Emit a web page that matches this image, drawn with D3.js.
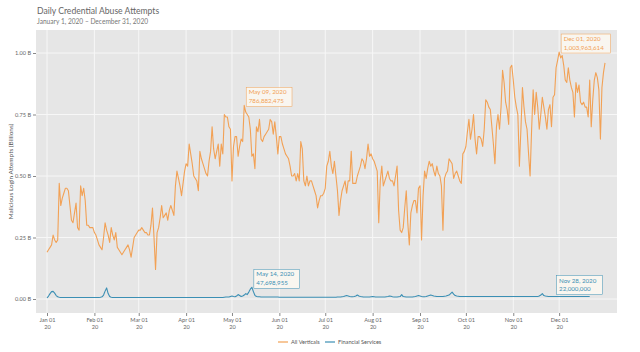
<!DOCTYPE html>
<html>
<head>
<meta charset="utf-8">
<script src="https://cdn.jsdelivr.net/npm/d3@7"></script>
<style>
  body { margin: 0; background: #fff; }
  text { font-family: Lato, "Open Sans", sans-serif; }
</style>
</head>
<body>
<div id="chart"></div>
<script>
// daily values, Jan 1 2020 .. Dec 31 2020, billions
var allVerticals = [
  0.19,0.20,0.21,0.22,0.26,0.24,0.23,0.24,0.47,0.38,
  0.41,0.43,0.45,0.45,0.44,0.38,0.32,0.31,0.35,0.39,
  0.29,0.28,0.46,0.42,0.45,0.40,0.30,0.30,0.29,0.29,
  0.29,0.27,0.26,0.24,0.22,0.21,0.20,0.25,0.31,0.28,
  0.26,0.23,0.29,0.26,0.24,0.27,0.21,0.20,0.19,0.18,
  0.19,0.20,0.21,0.22,0.20,0.17,0.21,0.25,0.26,0.27,
  0.28,0.28,0.29,0.28,0.27,0.27,0.26,0.26,0.30,0.37,
  0.25,0.12,0.27,0.29,0.33,0.38,0.33,0.34,0.35,0.32,
  0.36,0.38,0.36,0.34,0.46,0.52,0.49,0.46,0.42,0.47,
  0.52,0.55,0.54,0.63,0.59,0.55,0.50,0.49,0.48,0.44,
  0.60,0.57,0.55,0.53,0.51,0.50,0.56,0.60,0.70,0.61,
  0.57,0.60,0.63,0.54,0.63,0.59,0.75,0.74,0.74,0.70,
  0.69,0.48,0.62,0.66,0.66,0.58,0.62,0.65,0.64,0.787,
  0.76,0.75,0.74,0.69,0.58,0.59,0.53,0.70,0.68,0.73,
  0.65,0.64,0.66,0.67,0.68,0.69,0.73,0.72,0.67,0.72,
  0.66,0.59,0.66,0.66,0.63,0.61,0.59,0.58,0.57,0.54,
  0.50,0.50,0.51,0.48,0.51,0.48,0.64,0.61,0.48,0.46,
  0.50,0.46,0.48,0.48,0.46,0.44,0.42,0.37,0.40,0.42,
  0.42,0.43,0.45,0.54,0.56,0.60,0.54,0.51,0.56,0.50,
  0.44,0.34,0.40,0.44,0.46,0.48,0.43,0.48,0.48,0.60,
  0.47,0.47,0.47,0.50,0.52,0.54,0.57,0.56,0.53,0.57,
  0.63,0.58,0.59,0.57,0.56,0.54,0.52,0.31,0.48,0.54,
  0.46,0.48,0.50,0.52,0.49,0.48,0.48,0.46,0.50,0.54,
  0.36,0.28,0.27,0.29,0.37,0.44,0.31,0.22,0.35,0.38,
  0.40,0.40,0.35,0.45,0.46,0.24,0.42,0.52,0.49,0.53,
  0.56,0.54,0.55,0.52,0.50,0.54,0.51,0.50,0.46,0.28,
  0.49,0.51,0.52,0.57,0.56,0.55,0.49,0.51,0.52,0.50,
  0.48,0.47,0.59,0.60,0.62,0.68,0.73,0.65,0.69,0.75,
  0.65,0.59,0.66,0.66,0.65,0.62,0.69,0.81,0.80,0.78,
  0.77,0.70,0.63,0.55,0.70,0.75,0.69,0.78,0.93,0.88,
  0.80,0.77,0.71,0.94,0.95,0.89,0.82,0.78,0.75,0.54,
  0.69,0.86,0.78,0.72,0.69,0.59,0.50,0.69,0.85,0.75,
  0.84,0.78,0.69,0.75,0.82,0.78,0.74,0.69,0.77,0.79,
  0.70,0.82,0.83,0.94,0.97,1.004,0.98,0.99,0.95,0.89,
  0.88,0.94,0.89,0.86,0.84,0.74,0.88,0.84,0.87,0.80,
  0.79,0.80,0.78,0.78,0.74,0.89,0.70,0.81,0.89,0.92,
  0.90,0.85,0.65,0.86,0.92,0.96
];

var financialServices = [
  0.004,0.012,0.022,0.030,0.031,0.024,0.014,0.009,0.007,0.006,
  0.006,0.006,0.006,0.006,0.006,0.006,0.006,0.006,0.006,0.006,
  0.006,0.006,0.006,0.006,0.006,0.006,0.006,0.006,0.006,0.006,
  0.006,0.006,0.006,0.006,0.006,0.007,0.009,0.016,0.032,0.045,
  0.022,0.010,0.007,0.006,0.006,0.006,0.006,0.006,0.006,0.006,
  0.006,0.006,0.006,0.006,0.006,0.006,0.006,0.006,0.006,0.006,
  0.006,0.006,0.006,0.006,0.006,0.006,0.006,0.006,0.006,0.006,
  0.006,0.006,0.006,0.006,0.006,0.006,0.006,0.006,0.006,0.006,
  0.006,0.006,0.006,0.006,0.006,0.006,0.006,0.006,0.006,0.006,
  0.006,0.006,0.006,0.006,0.006,0.006,0.006,0.006,0.006,0.006,
  0.006,0.006,0.006,0.006,0.006,0.006,0.006,0.006,0.006,0.006,
  0.006,0.006,0.006,0.006,0.006,0.006,0.007,0.008,0.008,0.008,
  0.010,0.012,0.010,0.009,0.012,0.018,0.014,0.010,0.012,0.016,
  0.022,0.018,0.028,0.040,0.0477,0.030,0.015,0.010,0.009,0.009,
  0.008,0.008,0.008,0.008,0.008,0.008,0.008,0.008,0.008,0.008,
  0.008,0.008,0.007,0.007,0.007,0.007,0.007,0.007,0.007,0.007,
  0.007,0.007,0.007,0.007,0.007,0.007,0.007,0.007,0.007,0.007,
  0.007,0.007,0.007,0.007,0.007,0.007,0.007,0.007,0.007,0.007,
  0.007,0.007,0.007,0.007,0.007,0.007,0.007,0.007,0.007,0.007,
  0.008,0.008,0.008,0.009,0.010,0.012,0.014,0.012,0.010,0.009,
  0.009,0.010,0.012,0.016,0.012,0.010,0.009,0.008,0.008,0.008,
  0.008,0.008,0.009,0.010,0.009,0.008,0.008,0.008,0.008,0.008,
  0.008,0.008,0.009,0.010,0.012,0.011,0.009,0.008,0.008,0.008,
  0.009,0.010,0.018,0.010,0.009,0.008,0.008,0.008,0.008,0.008,
  0.009,0.010,0.012,0.014,0.012,0.010,0.009,0.009,0.010,0.012,
  0.014,0.016,0.014,0.012,0.011,0.010,0.010,0.010,0.010,0.010,
  0.011,0.012,0.014,0.016,0.022,0.028,0.020,0.014,0.012,0.011,
  0.010,0.010,0.010,0.010,0.010,0.010,0.010,0.010,0.010,0.010,
  0.010,0.010,0.010,0.010,0.010,0.010,0.010,0.010,0.010,0.010,
  0.010,0.010,0.010,0.010,0.010,0.010,0.010,0.010,0.010,0.010,
  0.010,0.010,0.010,0.010,0.010,0.010,0.010,0.010,0.010,0.010,
  0.010,0.010,0.010,0.010,0.010,0.010,0.010,0.010,0.010,0.010,
  0.010,0.010,0.012,0.016,0.022,0.014,0.012,0.011,0.010,0.010,
  0.010,0.010,0.010,0.010,0.010,0.010,0.010,0.010,0.010,0.010,
  0.010,0.010,0.010,0.010,0.010,0.010,0.010,0.010,0.010,0.010,
  0.010,0.010,0.010,0.010,0.010,0.010
];

var seriesNames = ['All Verticals', 'Financial Services'];
var seriesColors = ['#f2a155', '#3b8fb4'];
var yTicks = [0, 0.25, 0.5, 0.75, 1.0];

// callouts: [series index, date, exact value]
var callouts = [
  [0, '2020-05-09', 786882475],
  [0, '2020-12-01', 1003963614],
  [1, '2020-05-14', 47698955],
  [1, '2020-11-28', 22000000]
];

var w = 640, h = 352;
var panel = {left: 36, right: 617, top: 30, bottom: 313};

var parse = d3.timeParse('%Y-%m-%d');
var start = new Date(2020, 0, 1);
var days = allVerticals.map(function(d, i) { return d3.timeDay.offset(start, i); });

var svg = d3.select('#chart').append('svg')
  .attr('width', w).attr('height', h);

var x = d3.scaleTime()
  .domain([start, new Date(2020, 11, 31)])
  .range([47, 605]);
var y = d3.scaleLinear()
  .domain([0, 1])
  .range([299, 53]);

// title
svg.append('text').attr('x', 37).attr('y', 14)
  .attr('font-size', 8.6).attr('fill', '#666')
  .text('Daily Credential Abuse Attempts');
svg.append('text').attr('x', 37).attr('y', 24)
  .attr('font-size', 6.6).attr('fill', '#777')
  .text('January 1, 2020 \u2013 December 31, 2020');

// panel
svg.append('rect')
  .attr('x', panel.left).attr('y', panel.top)
  .attr('width', panel.right - panel.left).attr('height', panel.bottom - panel.top)
  .attr('fill', '#e6e6e6');

var months = d3.timeMonth.range(start, new Date(2021, 0, 1));

svg.append('g').selectAll('line')
  .data(yTicks).enter().append('line')
  .attr('x1', panel.left).attr('x2', panel.right)
  .attr('y1', function(d) { return y(d); }).attr('y2', function(d) { return y(d); })
  .attr('stroke', '#f7f7f7').attr('stroke-width', 1);

svg.append('g').selectAll('line')
  .data(months).enter().append('line')
  .attr('x1', function(d) { return x(d); }).attr('x2', function(d) { return x(d); })
  .attr('y1', panel.top).attr('y2', panel.bottom)
  .attr('stroke', '#f7f7f7').attr('stroke-width', 1);

// axes
var yAxis = d3.axisLeft(y).tickValues(yTicks).tickSize(3).tickPadding(2)
  .tickFormat(function(d) { return d3.format('.2f')(d) + ' B'; });
var gy = svg.append('g').attr('transform', 'translate(' + panel.left + ',0)').call(yAxis);
gy.select('.domain').remove();
gy.selectAll('line').attr('stroke', '#888');
gy.selectAll('text').attr('font-size', 5.6).attr('fill', '#666')
  .style('font-family', 'Lato, sans-serif');

var xAxis = d3.axisBottom(x).tickValues(months).tickSize(3).tickPadding(2)
  .tickFormat(d3.timeFormat('%b %d'));
var gx = svg.append('g').attr('transform', 'translate(0,' + panel.bottom + ')').call(xAxis);
gx.select('.domain').remove();
gx.selectAll('line').attr('stroke', '#888');
gx.selectAll('text').attr('font-size', 5.6).attr('fill', '#666')
  .style('font-family', 'Lato, sans-serif');
gx.selectAll('.tick').append('text')
  .attr('y', 12).attr('dy', '0.71em').attr('text-anchor', 'middle')
  .attr('font-size', 5.6).attr('fill', '#666')
  .style('font-family', 'Lato, sans-serif')
  .text(function(d) { return d3.timeFormat('%y')(d); });

svg.append('text')
  .attr('transform', 'translate(13,' + ((panel.top + panel.bottom) / 2) + ') rotate(-90)')
  .attr('text-anchor', 'middle').attr('font-size', 6.4).attr('fill', '#555')
  .text('Malicious Login Attempts (Billions)');

// lines
var line = d3.line()
  .x(function(d, i) { return x(days[i]); })
  .y(function(d) { return y(d); });

[allVerticals, financialServices].forEach(function(s, k) {
  svg.append('path').datum(s)
    .attr('fill', 'none')
    .attr('stroke', seriesColors[k])
    .attr('stroke-width', 1.1)
    .attr('stroke-linejoin', 'round')
    .attr('d', line);
});

// callouts
var fmtDate = d3.timeFormat('%b %d, %Y');
callouts.forEach(function(c) {
  var dt = parse(c[1]);
  var px = x(dt), py = y(c[2] / 1e9);
  var g = svg.append('g').attr('transform', 'translate(' + (px + 2) + ',' + (py + 1) + ')');
  var t1 = fmtDate(dt), t2 = d3.format(',')(c[2]);
  var bw = Math.max(t1.length, t2.length) * 3.4 + 5;
  g.append('rect').attr('x', 0).attr('y', -19).attr('width', bw).attr('height', 19)
    .attr('fill', '#fbf8f1').attr('fill-opacity', 0.85)
    .attr('stroke', seriesColors[c[0]]).attr('stroke-width', 0.5);
  g.append('text').attr('x', 2.5).attr('y', -12).attr('font-size', 6.2)
    .attr('fill', seriesColors[c[0]]).text(t1);
  g.append('text').attr('x', 2.5).attr('y', -3.5).attr('font-size', 6.2)
    .attr('fill', seriesColors[c[0]]).text(t2);
});

// legend
var legend = svg.append('g').attr('transform', 'translate(278,342)');
var lx = 0;
seriesNames.forEach(function(name, k) {
  legend.append('line').attr('x1', lx).attr('x2', lx + 10).attr('y1', 0).attr('y2', 0)
    .attr('stroke', seriesColors[k]).attr('stroke-width', 1.2);
  legend.append('text').attr('x', lx + 13).attr('y', 2)
    .attr('font-size', 5.6).attr('fill', '#555').text(name);
  lx += 47;
});
</script>
</body>
</html>
